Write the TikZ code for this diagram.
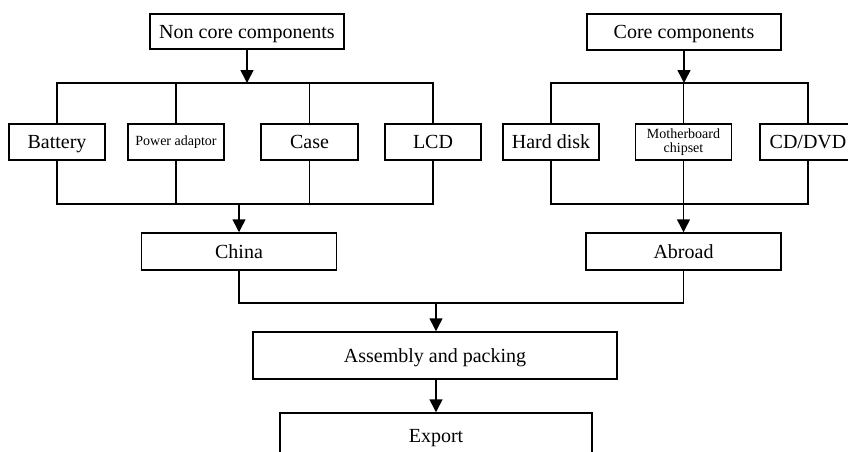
\documentclass[tikz,border=0pt]{standalone}
\usepackage{fontspec}
\setmainfont{Liberation Serif}
\usetikzlibrary{arrows.meta}
\begin{document}
\begin{tikzpicture}[x=1pt,y=-1pt,
  box/.style={draw, line width=1.5pt, inner sep=0pt, align=center,
    text height=14.5pt, text depth=1.5pt,
    font=\fontsize{20}{22}\selectfont},
  smallbox/.style={draw, line width=1.5pt, inner sep=0pt, align=center,
    font=\fontsize{14}{15}\selectfont},
  wire/.style={line width=1.5pt},
  arr/.style={wire, -{Triangle[length=13pt,width=13pt]}}]
\useasboundingbox (0,0) rectangle (848,451);
% top level
\node[box, minimum width=194pt, minimum height=35pt] (nc) at (247,31.5) {Non core components};
\node[box, minimum width=194pt, minimum height=36pt] (cc) at (684,32) {Core components};
% components
\node[box, minimum width=96pt, minimum height=36pt] (bat) at (57,142) {Battery};
\node[smallbox, minimum width=96pt, minimum height=36pt] (pow) at (176,142) {Power adaptor};
\node[box, minimum width=97pt, minimum height=36pt] (case) at (309.5,142) {Case};
\node[box, minimum width=96pt, minimum height=36pt] (lcd) at (433,142) {LCD};
\node[box, minimum width=96pt, minimum height=36pt] (hd) at (551,142) {Hard disk};
\node[smallbox, minimum width=96pt, minimum height=36pt] (mb) at (683.5,142) {Motherboard\\[-1pt]chipset};
\node[box, minimum width=96pt, minimum height=36pt] (cd) at (808,142) {CD/DVD};
% origins
\node[box, minimum width=195pt, minimum height=37pt] (china) at (239,251.5) {China};
\node[box, minimum width=195pt, minimum height=37pt] (abroad) at (683.5,251.5) {Abroad};
\node[box, minimum width=364pt, minimum height=47pt] (asm) at (435,355.5) {Assembly and packing};
\node[box, minimum width=312pt, minimum height=46pt] (exp) at (436,436) {Export};
% bus levels
\coordinate (tb) at (0,83);
\coordinate (bb) at (0,204);
\coordinate (jb) at (0,303);
% left group
\draw[arr] (nc.south) -- (nc.south|-tb);
\draw[wire] (bat.north) -- (bat.north|-tb) -- (lcd.north|-tb) -- (lcd.north);
\draw[wire] (pow.north) -- (pow.north|-tb);
\draw[wire] (case.north) -- (case.north|-tb);
\draw[wire] (bat.south) -- (bat.south|-bb) -- (lcd.south|-bb) -- (lcd.south);
\draw[wire] (pow.south) -- (pow.south|-bb);
\draw[wire] (case.south) -- (case.south|-bb);
\draw[arr] (china.north|-bb) -- (china.north);
% right group
\draw[arr] (cc.south) -- (cc.south|-tb);
\draw[wire] (hd.north) -- (hd.north|-tb) -- (cd.north|-tb) -- (cd.north);
\draw[wire] (mb.north) -- (mb.north|-tb);
\draw[wire] (hd.south) -- (hd.south|-bb) -- (cd.south|-bb) -- (cd.south);
\draw[wire] (mb.south) -- (mb.south|-bb);
\draw[arr] (abroad.north|-bb) -- (abroad.north);
% join
\coordinate (jm) at (436,303);
\draw[wire] (china.south) -- (china.south|-jb) -- (abroad.south|-jb) -- (abroad.south);
\draw[arr] (jm) -- (asm.north-|jm);
\draw[arr] (asm.south-|jm) -- (exp.north-|jm);
\end{tikzpicture}
\end{document}
